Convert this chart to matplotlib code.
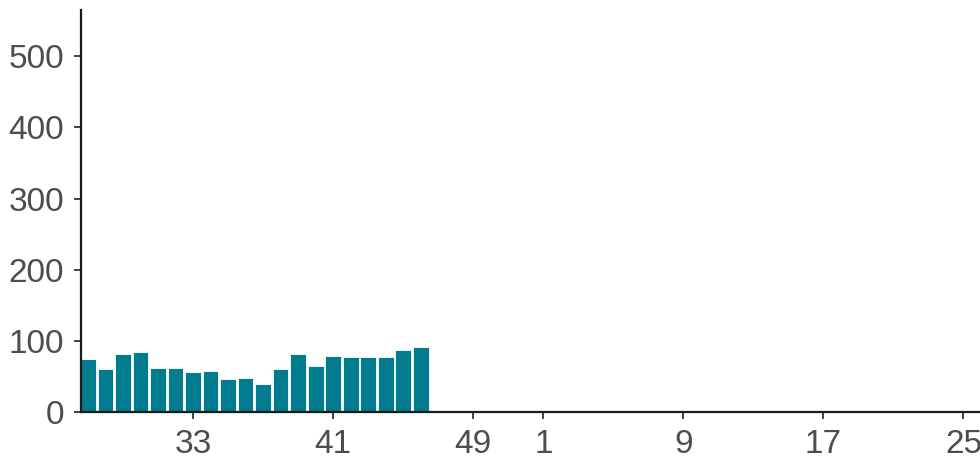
import numpy as np
import matplotlib
matplotlib.use("Agg")
import matplotlib.pyplot as plt

# week sequence on the x axis (season runs week 27 -> week 26 of next year)
weeks = list(range(27, 53)) + list(range(1, 27))
# weekly counts, observed weeks only
counts = [75, 60, 81, 85, 62, 62, 56, 58, 46, 48,
          40, 60, 81, 64, 79, 77, 77, 77, 87, 91]
y_ticks = [0, 100, 200, 300, 400, 500]

plt.rcParams['font.family'] = ['Liberation Sans', 'DejaVu Sans']

fig = plt.figure(figsize=(9.8, 4.62), dpi=100)
# axes run slightly past the right edge, like the cropped original
ax = fig.add_axes([81 / 980, (462 - 412) / 462, (988 - 81) / 980, (412 - 10) / 462])

pos = np.arange(len(weeks))
ax.bar(pos[:len(counts)], counts, width=0.9, color='#017c8e',
       edgecolor='white', linewidth=0.6, zorder=2)

ax.set_xlim(-0.4, 51.4)
ax.set_ylim(0, 565)

tick_pos = [i for i, w in enumerate(weeks) if (w - 1) % 8 == 0]
ax.set_xticks(tick_pos)
ax.set_xticklabels([str(weeks[i]) for i in tick_pos])
ax.set_yticks(y_ticks)

for side in ['top', 'right']:
    ax.spines[side].set_visible(False)
for side in ['left', 'bottom']:
    ax.spines[side].set_linewidth(1.6)
    ax.spines[side].set_color('#1a1a1a')

ax.tick_params(axis='both', length=5, width=1.3, color='#333333',
               labelsize=24, labelcolor='#4d4d4d')
ax.tick_params(axis='x', pad=7)
ax.tick_params(axis='y', pad=7)

fig.savefig('out.png', dpi=100)
